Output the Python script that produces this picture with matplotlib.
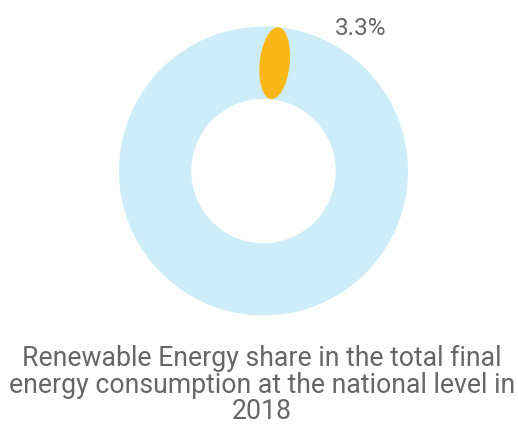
import matplotlib.pyplot as plt
from matplotlib.patches import Ellipse
import numpy as np

# data
share = 3.3
label = '3.3%'
title = ('Renewable Energy share in the total final\n'
         'energy consumption at the national level in\n'
         '2018')

plt.rcParams['font.family'] = ['Roboto', 'DejaVu Sans']

fig = plt.figure(figsize=(5.18, 4.25), dpi=100)
ax = fig.add_axes([0, 0, 1, 1])

cx, cy, r = 263.5, 254, 144.5
ring = 0.5

# track ring
ax.pie([100], colors=['#CDEDF8'], radius=r, center=(cx, cy),
       startangle=90, wedgeprops=dict(width=r * ring, linewidth=0))

# rounded slice for the share, drawn as an ellipse along the ring
mid = np.deg2rad(90 - share / 100 * 360 / 2)
rm = r * (1 - ring / 2)
arc_w = 2 * np.pi * r * share / 100
ax.add_patch(Ellipse((cx + rm * np.cos(mid), cy + rm * np.sin(mid)),
                     width=arc_w, height=r * ring,
                     angle=np.rad2deg(mid) - 90, color='#FBB715', lw=0))

ax.text(361, 397, label, ha='center', va='center', fontsize=17.5, color='#666666')

ax.text(262, 40, title, ha='center', va='center', fontsize=19.2,
        color='#666666', linespacing=0.98)

ax.set_xlim(0, 518)
ax.set_ylim(0, 425)
ax.set_aspect('auto')
ax.axis('off')

fig.savefig('out.png', dpi=100)
